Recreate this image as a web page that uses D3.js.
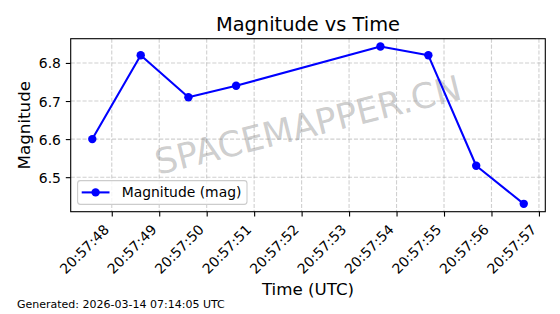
<!DOCTYPE html>
<html>
<head>
<meta charset="utf-8">
<script src="https://cdn.jsdelivr.net/npm/d3@7"></script>
<style>
body { margin: 0; background: #fff; }
svg { display: block; font-family: "DejaVu Sans", sans-serif; }
</style>
</head>
<body>
<script>
// 数据
var times = ["20:57:47.590", "20:57:48.610", "20:57:49.615", "20:57:50.620",
             "20:57:53.660", "20:57:54.670", "20:57:55.678", "20:57:56.680"];
var magnitudes = [6.60, 6.82, 6.71, 6.74, 6.843, 6.82, 6.53, 6.43];
var yTicks = [6.5, 6.6, 6.7, 6.8];
var titleText = "Magnitude vs Time";
var xLabel = "Time (UTC)";
var yLabel = "Magnitude";
var legendLabel = "Magnitude (mag)";
var footerText = "Generated: 2026-03-14 07:14:05 UTC";
var watermark = "SPACEMAPPER.CN";

var width = 560, height = 314;
var plotL = 70.7, plotR = 545.3, plotT = 38.7, plotB = 211.7;

var parse = d3.utcParse("%Y-%m-%d %H:%M:%S.%L");
var data = times.map(function (t, i) {
    return { t: parse("2026-03-13 " + t), v: magnitudes[i] };
});

var svg = d3.select("body").append("svg").attr("width", width).attr("height", height);

// 比例尺 (matplotlib 5% margins)
var tExt = d3.extent(data, function (d) { return +d.t; });
var tPad = (tExt[1] - tExt[0]) * 0.05;
var x = d3.scaleUtc().domain([new Date(tExt[0] - tPad), new Date(tExt[1] + tPad)]).range([plotL, plotR]);
var vExt = d3.extent(magnitudes);
var vPad = (vExt[1] - vExt[0]) * 0.05;
var y = d3.scaleLinear().domain([vExt[0] - vPad, vExt[1] + vPad]).range([plotB, plotT]);

var xTicks = x.ticks(d3.utcSecond.every(1));
var fmt = d3.utcFormat("%H:%M:%S");

// 网格
var grid = svg.append("g").attr("stroke", "#b0b0b0").attr("stroke-opacity", 0.6)
    .attr("stroke-width", 1.1).attr("stroke-dasharray", "4.1,1.8");
grid.selectAll("line.gx").data(xTicks).enter().append("line")
    .attr("x1", function (d) { return x(d); }).attr("x2", function (d) { return x(d); })
    .attr("y1", plotT).attr("y2", plotB);
grid.selectAll("line.gy").data(yTicks).enter().append("line")
    .attr("y1", function (d) { return y(d); }).attr("y2", function (d) { return y(d); })
    .attr("x1", plotL).attr("x2", plotR);

// 水印
svg.append("text")
    .attr("transform", "translate(" + ((plotL + plotR) / 2) + "," + ((plotT + plotB) / 2) + ") rotate(-14)")
    .attr("text-anchor", "middle").attr("dominant-baseline", "central")
    .style("font-size", "35px").style("fill", "#808080").style("fill-opacity", 0.4)
    .text(watermark);

// 线和点
var line = d3.line().x(function (d) { return x(d.t); }).y(function (d) { return y(d.v); });
svg.append("path").datum(data).attr("d", line)
    .style("fill", "none").style("stroke", "#0000ff").style("stroke-width", 2.08).style("stroke-linejoin", "round");
svg.selectAll("circle.pt").data(data).enter().append("circle")
    .attr("cx", function (d) { return x(d.t); }).attr("cy", function (d) { return y(d.v); })
    .attr("r", 4.2).style("fill", "#0000ff");

// 坐标轴
var xAxis = svg.append("g").attr("transform", "translate(0," + plotB + ")")
    .call(d3.axisBottom(x).tickValues(xTicks).tickFormat(fmt).tickSize(4.9).tickSizeOuter(0));
xAxis.select(".domain").remove();
xAxis.selectAll(".tick line").attr("stroke", "#000").attr("stroke-width", 1.1);
xAxis.selectAll(".tick text")
    .attr("y", 0)
    .attr("transform", "translate(0,21.2) rotate(-45)")
    .attr("text-anchor", "end")
    .attr("dy", "-0.236em")
    .style("font-size", "13.9px").style("fill", "#000")
    .style("font-family", "DejaVu Sans");

var yAxis = svg.append("g").attr("transform", "translate(" + plotL + ",0)")
    .call(d3.axisLeft(y).tickValues(yTicks).tickFormat(d3.format(".1f")).tickSize(4.9).tickPadding(4.9).tickSizeOuter(0));
yAxis.select(".domain").remove();
yAxis.selectAll(".tick line").attr("stroke", "#000").attr("stroke-width", 1.1);
yAxis.selectAll(".tick text").style("font-size", "13.9px").style("fill", "#000")
    .style("font-family", "DejaVu Sans").attr("dy", "0.36em");

svg.append("rect").attr("x", plotL).attr("y", plotT).attr("width", plotR - plotL).attr("height", plotB - plotT)
    .style("fill", "none").style("stroke", "#000").style("stroke-width", 1.1);

// 图例
var lg = svg.append("g");
lg.append("rect").attr("x", 77.6).attr("y", 180.6).attr("width", 169.4).attr("height", 23.8)
    .attr("rx", 2.8).style("fill", "#fff").style("fill-opacity", 0.8)
    .style("stroke", "#cccccc").style("stroke-width", 1.1);
lg.append("line").attr("x1", 81.7).attr("x2", 109.5).attr("y1", 192.4).attr("y2", 192.4)
    .style("stroke", "#0000ff").style("stroke-width", 2.08);
lg.append("circle").attr("cx", 95.6).attr("cy", 192.4).attr("r", 4.2).style("fill", "#0000ff");
lg.append("text").attr("x", 121.7).attr("y", 197.4).style("font-size", "13.9px").text(legendLabel);

// 标题和标签
svg.append("text").attr("x", (plotL + plotR) / 2).attr("y", 31).attr("text-anchor", "middle")
    .style("font-size", "19.4px").text(titleText);
svg.append("text").attr("x", (plotL + plotR) / 2).attr("y", 295).attr("text-anchor", "middle")
    .style("font-size", "16.7px").text(xLabel);
svg.append("text").attr("transform", "translate(30," + ((plotT + plotB) / 2) + ") rotate(-90)")
    .attr("text-anchor", "middle").style("font-size", "16.7px").text(yLabel);
svg.append("text").attr("x", 17).attr("y", 307.5).style("font-size", "11px").text(footerText);
</script>
</body>
</html>
